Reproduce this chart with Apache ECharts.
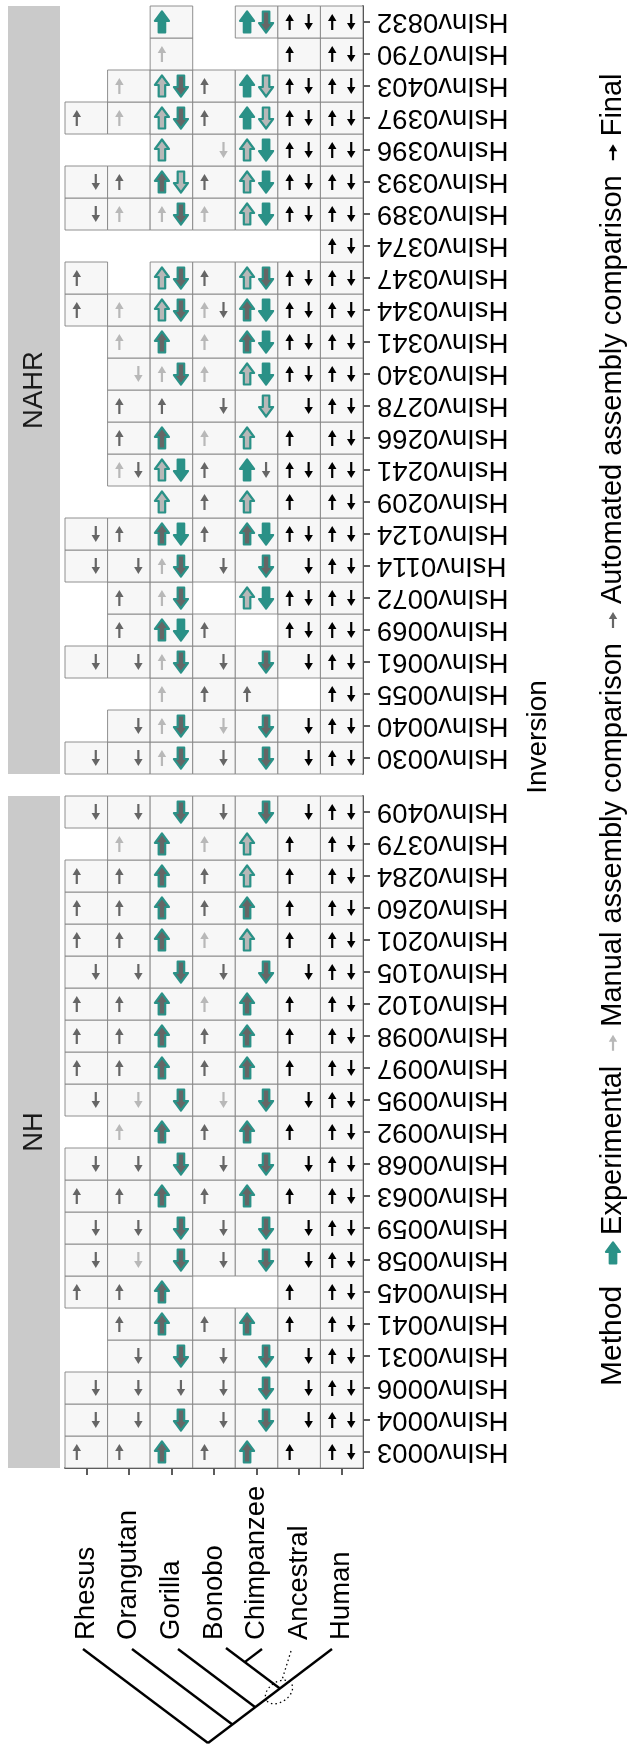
<!DOCTYPE html>
<html><head><meta charset="utf-8">
<script src="https://cdn.jsdelivr.net/npm/echarts@6/dist/echarts.min.js"></script>
<style>html,body{margin:0;padding:0;background:#fff}#c{width:628px;height:1746px}</style>
</head><body><div id="c"></div>
<script>
// ---------------- DATA ----------------
const species = ['Rhesus','Orangutan','Gorilla','Bonobo','Chimpanzee','Ancestral','Human'];
const panels = ['NAHR','NH'];
// rows listed bottom -> top; each token = [up][down] for the 7 species
// F final (black), A automated (dark grey), M manual (light grey),
// E experimental (teal), a experimental+automated, m experimental+manual, '.' none
const nhInversions = ['HsInv0003','HsInv0004','HsInv0006','HsInv0031','HsInv0041','HsInv0045','HsInv0058','HsInv0059','HsInv0063','HsInv0068','HsInv0092','HsInv0095','HsInv0097','HsInv0098','HsInv0102','HsInv0105','HsInv0201','HsInv0260','HsInv0284','HsInv0379','HsInv0409'];
const nhCells = [
 'A. A. a. A. a. F. FF',
 '.A .A .a .A .a .F FF',
 '.A .A .A .A .a .F FF',
 '.. .A .a .A .a .F FF',
 '.. A. a. A. a. F. FF',
 'A. A. a. .. .. F. FF',
 '.A .M .a .A .a .F FF',
 '.A .A .a .A .a .F FF',
 'A. A. a. A. a. F. FF',
 '.A .A .a .A .a .F FF',
 '.. M. a. A. a. F. FF',
 '.A .M .a .M .a .F FF',
 'A. A. a. A. a. F. FF',
 'A. A. a. A. a. F. FF',
 'A. A. a. M. a. F. FF',
 '.A .A .a .A .a .F FF',
 'A. A. a. M. m. F. FF',
 'A. A. a. A. a. F. FF',
 'A. A. a. A. m. F. FF',
 '.. M. a. M. m. F. FF',
 '.A .A .a .A .a .F FF'
];
const nahrInversions = ['HsInv0030','HsInv0040','HsInv0055','HsInv0061','HsInv0069','HsInv0072','HsInv0114','HsInv0124','HsInv0209','HsInv0241','HsInv0266','HsInv0278','HsInv0340','HsInv0341','HsInv0344','HsInv0347','HsInv0374','HsInv0389','HsInv0393','HsInv0396','HsInv0397','HsInv0403','HsInv0790','HsInv0832'];
const nahrCells = [
 '.A .A Ma .A .a .F FF',
 '.. .A Ma .M .a .F FF',
 '.. .. M. A. A. .. FF',
 '.A .A Ma .A .a .F FF',
 '.. A. aE A. .. FF FF',
 '.. A. Ma .. mE FF FF',
 '.A .A Ma .A .a .F FF',
 '.A A. aE A. aE FF FF',
 '.. .. m. A. m. F. FF',
 '.. MA mE A. EA FF FF',
 '.. A. a. M. m. F. FF',
 '.. A. A. .A .m .F FF',
 '.. .M Ma M. mE FF FF',
 '.. M. a. M. aE FF FF',
 'A. M. ma MA aE FF FF',
 'A. .. ma A. ma FF FF',
 '.. .. .. .. .. .. FF',
 '.A M. Ma M. mE FF FF',
 '.A A. am A. mE FF FF',
 '.. .. m. .M mE FF FF',
 'A. M. ma A. Em FF FF',
 '.. M. ma A. Em FF FF',
 '.. .. M. .. .. F. FF',
 '.. .. E. .. Ea FF FF'
];
const methodNames = ['Experimental','Manual assembly comparison','Automated assembly comparison','Final'];
const methodCodes = ['E','M','A','F'];
const legendTitle = 'Method';
const axisTitle = 'Inversion';

// ---------------- STYLE ----------------
const FONT = "'Liberation Sans', Arial, Helvetica, sans-serif";
const FS_AXIS = 27.5, FS_STRIP = 27.5, FS_TITLE = 28, FS_LEG = 29, FS_LEGT = 30;
const TEAL = '#2a9187';
const thinCol = {F:'#000000', A:'#666666', M:'#b8b8b8'};
const fatFill = {E:TEAL, a:'#666666', m:'#b8b8b8'};

const rowH = 32;
const gridLeft = 65, gridRight = 363;
const nahrTop = 6, nhTop = nahrTop + nahrInversions.length*rowH + 22;
const nahrH = nahrInversions.length*rowH, nhH = nhInversions.length*rowH;

function buildCells(rows){
  const out = [];
  rows.forEach((r, ri) => r.split(' ').forEach((t, ci) => {
    if (t !== '..') out.push({col: ci, row: ri, up: t[0], down: t[1]});
  }));
  return out;
}
function arrowPts(cx, cy, dir, L, hw, hl, sw){
  const tip = cy + dir*L/2, base = cy - dir*L/2, hb = tip - dir*hl;
  return [[cx,tip],[cx+hw/2,hb],[cx+sw/2,hb],[cx+sw/2,base],[cx-sw/2,base],[cx-sw/2,hb],[cx-hw/2,hb]];
}
function arrowEl(cx, cy, dir, code){
  if (thinCol[code]) return {type:'polygon', shape:{points:arrowPts(cx,cy,dir,16,8.5,7,2.2)}, style:{fill:thinCol[code]}};
  return {type:'polygon', shape:{points:arrowPts(cx,cy,dir,21,14,9.5,6.5)},
          style:{fill:fatFill[code], stroke:TEAL, lineWidth:2.2, lineJoin:'round'}};
}
function renderer(cells){
  return function(params, api){
    const c = cells[params.dataIndex];
    const p = api.coord([c.col, c.row]);
    const s = api.size([1,1]);
    const ch = [{type:'rect', shape:{x:p[0]-s[0]/2, y:p[1]-s[1]/2, width:s[0], height:s[1]},
                 style:{fill:'#f7f7f7', stroke:'#858585', lineWidth:0.9}}];
    if (c.up !== '.') ch.push(arrowEl(p[0]-9.5, p[1], -1, c.up));
    if (c.down !== '.') ch.push(arrowEl(p[0]+9.5, p[1], 1, c.down));
    return {type:'group', children: ch};
  };
}
const panelCells = [buildCells(nahrCells), buildCells(nhCells)];
const panelInv = [nahrInversions, nhInversions];

const chart = echarts.init(document.getElementById('c'), null, {renderer:'canvas'});

const grids = [
  {left:gridLeft, width:gridRight-gridLeft, top:nahrTop, height:nahrH},
  {left:gridLeft, width:gridRight-gridLeft, top:nhTop, height:nhH}
];
const xAxes = [0,1].map(i => ({
  type:'category', gridIndex:i, data:species, boundaryGap:true,
  axisLine:{show:i===1, lineStyle:{color:'#000', width:1.6}},
  axisTick:{show:i===1, alignWithLabel:true, length:7, interval:0, lineStyle:{color:'#333', width:1.6}},
  axisLabel:{show:i===1, interval:0, rotate:90, align:'left', margin:172, fontSize:FS_AXIS, fontFamily:FONT, color:'#000'},
  splitLine:{show:false}
}));
const yAxes = [0,1].map(i => ({
  type:'category', gridIndex:i, data:panelInv[i], position:'right', boundaryGap:true,
  axisLine:{show:true, onZero:false, lineStyle:{color:'#000', width:1.6}},
  axisTick:{show:true, alignWithLabel:true, length:7, interval:0, lineStyle:{color:'#333', width:1.6}},
  axisLabel:{show:true, interval:0, rotate:180, margin:14, fontSize:FS_AXIS, fontFamily:FONT, color:'#000'},
  splitLine:{show:false}
}));
const series = [0,1].map(i => ({
  type:'custom', xAxisIndex:i, yAxisIndex:i, coordinateSystem:'cartesian2d',
  renderItem: renderer(panelCells[i]),
  data: panelCells[i].map(c => [c.col, c.row]),
  encode:{x:0, y:1}, clip:false, silent:true
}));

// ---------- graphic: strips, tree, legend, axis title ----------
const g = [];
const stripX = 8, stripW = 52;
[[nahrTop, nahrH, panels[0]], [nhTop, nhH, panels[1]]].forEach(([t, h, name]) => {
  g.push({type:'rect', shape:{x:stripX, y:t, width:stripW, height:h}, style:{fill:'#cacaca'}, silent:true});
  g.push({type:'text', x:stripX+stripW/2, y:t+h/2, rotation:Math.PI/2,
    style:{text:name, font:FS_STRIP+'px '+FONT, fill:'#1a1a1a', align:'center', verticalAlign:'middle', textAlign:'center', textVerticalAlign:'middle'}});
});
// axis title
g.push({type:'text', x:538, y:(nahrTop + nhTop + nhH)/2, rotation:Math.PI/2,
  style:{text:axisTitle, font:FS_TITLE+'px '+FONT, fill:'#000', align:'center', verticalAlign:'middle', textAlign:'center', textVerticalAlign:'middle'}});
// tree (slanted cladogram)
const TL = {stroke:'#000', lineWidth:2.4, lineCap:'butt'};
const root = [208,1743];
const treeSegs = [
  [[83,1649], root], [[332,1649], root],
  [[132,1649],[232.4,1724.5]], [[178,1649],[255.3,1707.2]],
  [[226,1648],[279.9,1688.5]], [[262,1649],[244.7,1662.1]]
];
treeSegs.forEach(([a,b]) => g.push({type:'line', shape:{x1:a[0],y1:a[1],x2:b[0],y2:b[1]}, style:TL, silent:true}));
g.push({type:'line', shape:{x1:291,y1:1651,x2:282,y2:1680}, style:{stroke:'#000', lineWidth:1.3, lineDash:[1.5,3]}, silent:true});
g.push({type:'ellipse', x:279, y:1692, rotation:0.6, shape:{cx:0, cy:0, rx:15, ry:10}, style:{fill:null, stroke:'#000', lineWidth:1.3, lineDash:[1.5,3]}, silent:true});
// legend (reads bottom -> top)
const ctx = document.createElement('canvas').getContext('2d');
function tw(t, fs){ ctx.font = fs+'px '+FONT; return ctx.measureText(t).width; }
const legendX = 613;
const KEY_PRE = 14, KEY_POST = 7, TITLE_GAP = 8;
function keyLen(code){ return code === 'E' ? 22 : 18; }
let ly = 1386;
function legText(t, fs){
  g.push({type:'text', x:legendX, y:ly, rotation:Math.PI/2,
    style:{text:t, font:fs+'px '+FONT, fill:'#000', align:'left', verticalAlign:'middle', textAlign:'left', textVerticalAlign:'middle'}});
  ly -= tw(t, fs);
}
function legKey(code){
  const len = keyLen(code);
  ly -= KEY_PRE;
  const el = arrowEl(legendX, ly - len/2, -1, code);
  el.silent = true;
  g.push(el);
  ly -= len + KEY_POST;
}
legText(legendTitle, FS_LEGT);
ly -= TITLE_GAP;
methodNames.forEach((n, i) => { legKey(methodCodes[i]); legText(n, FS_LEG); });

chart.setOption({
  animation:false,
  backgroundColor:'#ffffff',
  grid: grids, xAxis: xAxes, yAxis: yAxes, series: series, graphic: g
});
</script></body></html>
